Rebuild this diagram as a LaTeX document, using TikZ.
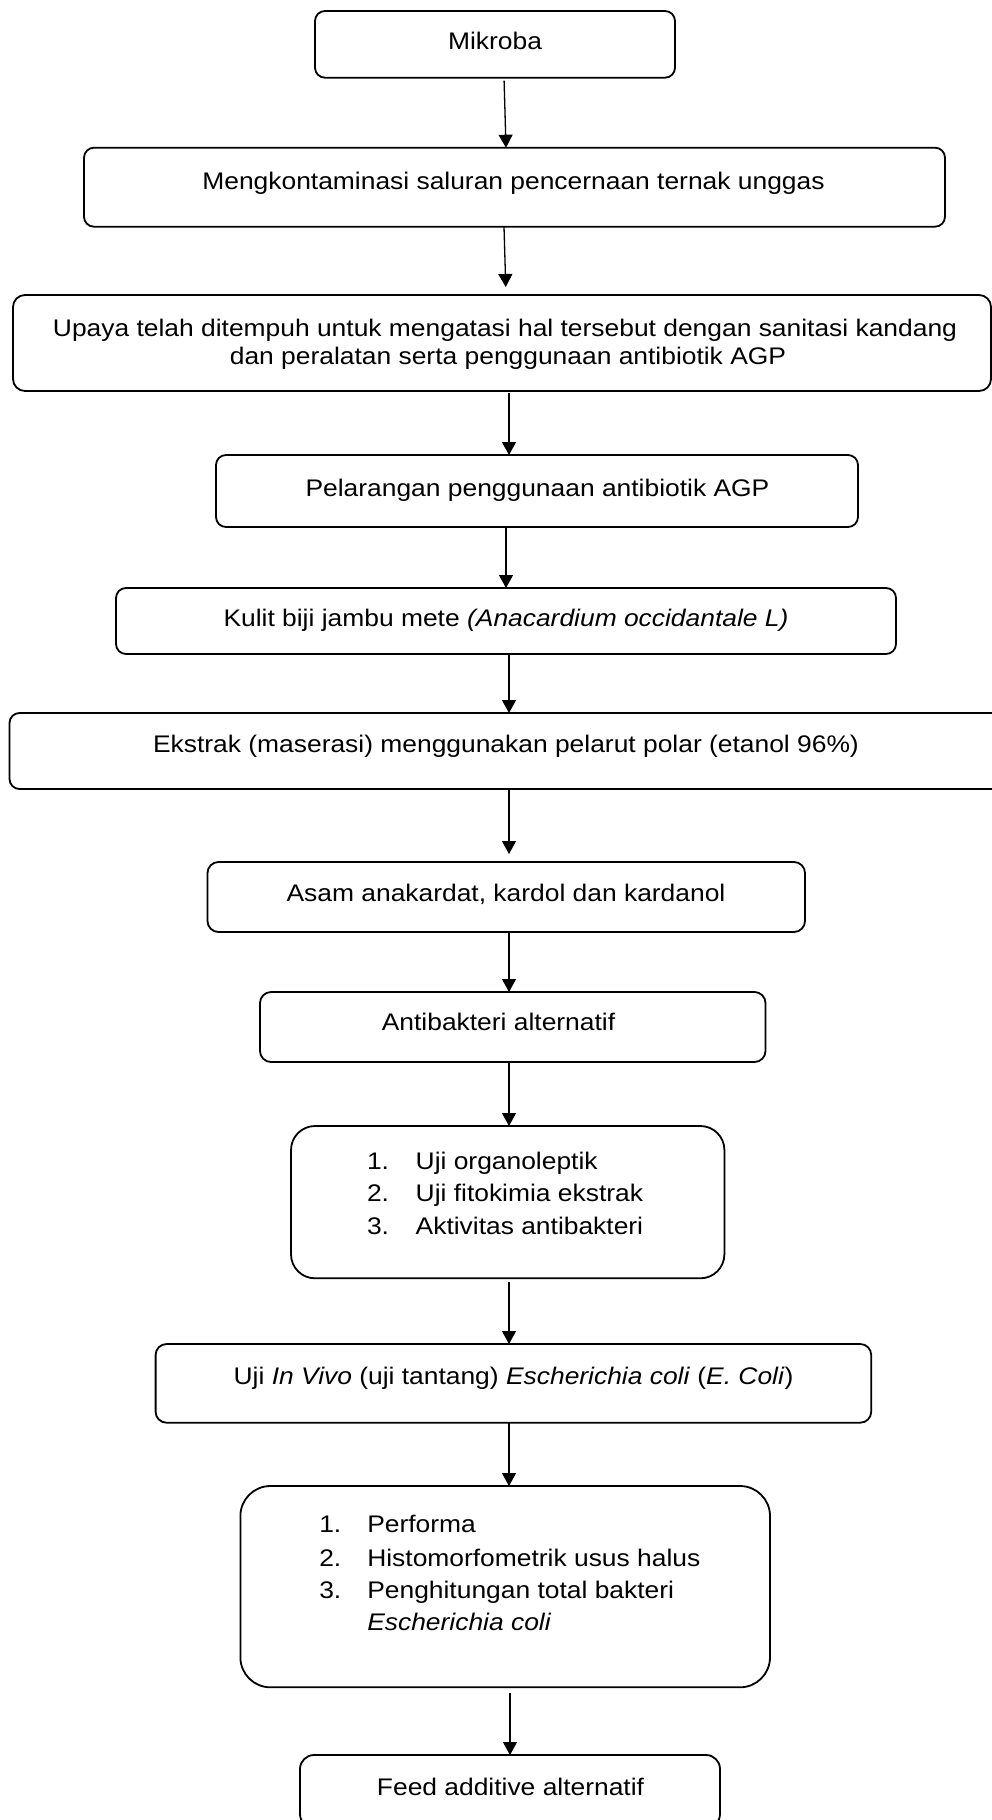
\documentclass[tikz,border=0pt]{standalone}
\usepackage{fontspec}
\setmainfont{Liberation Sans}[FakeStretch=1.1]
\usetikzlibrary{arrows.meta}
\tikzset{
  box/.style={draw=black, line width=1.8pt, inner sep=0pt, outer sep=0pt, fill=white},
  txt/.style={inner sep=0pt, outer sep=0pt, font=\fontsize{24}{27}\selectfont},
  arr/.style={line width=1.3pt, -{Triangle[length=13pt,width=14pt]}}
}
\newcommand{\mybox}[6]{%
  \node[box, rounded corners=#6pt, minimum width={(#3-#2)*1pt}, minimum height={(#5-#4)*1pt}] (#1) at ({(#2+#3)/2},{(#4+#5)/2}) {};}
\begin{document}
\begin{tikzpicture}[x=1pt,y=-1pt]
\useasboundingbox (0,0) rectangle (992,1820);
\fill[white] (0,0) rectangle (992,1820);
% boxes
\mybox{b1}{315}{675}{11}{77.7}{10}
\mybox{b2}{84}{945}{147.7}{226.7}{10}
\mybox{b3}{13}{991}{295}{391}{12}
\mybox{b4}{216}{858}{455}{527}{10}
\mybox{b5}{116}{896}{588}{654}{10}
\mybox{b6}{9.5}{1002}{713}{789}{10}
\mybox{b7}{207.5}{805}{862}{932}{11}
\mybox{b8}{260}{765.5}{992}{1062}{11}
\mybox{b9}{291}{724.4}{1126}{1278.3}{24}
\mybox{b10}{155.6}{871.2}{1344}{1422.7}{11}
\mybox{b11}{240.4}{770}{1486}{1687.3}{30}
\mybox{b12}{300}{720}{1755}{1828}{14}
% texts
\node[txt, anchor=base] (t1) at (495,49.3) {Mikroba};
\node[txt, anchor=base] (t2) at (513.5,189.3) {Mengkontaminasi saluran pencernaan ternak unggas};
\node[txt, anchor=base] (t3a) at (505,336.5) {Upaya telah ditempuh untuk mengatasi hal tersebut dengan sanitasi kandang};
\node[txt, anchor=base] (t3b) at (508,364) {dan peralatan serta penggunaan antibiotik AGP};
\node[txt, anchor=base] (t4) at (537.5,496) {Pelarangan penggunaan antibiotik AGP};
\node[txt, anchor=base] (t5) at (506,626) {Kulit biji jambu mete \textit{(Anacardium occidantale L)}};
\node[txt, anchor=base] (t6) at (506,752.6) {Ekstrak (maserasi) menggunakan pelarut polar (etanol 96\%)};
\node[txt, anchor=base] (t7) at (506,901) {Asam anakardat, kardol dan kardanol};
\node[txt, anchor=base] (t8) at (498.5,1030.3) {Antibakteri alternatif};
\node[txt, anchor=base west] (n9a) at (367,1169.3) {1.};
\node[txt, anchor=base west] (t9a) at (415.7,1169.3) {Uji organoleptik};
\node[txt, anchor=base west] (n9b) at (367,1201.9) {2.};
\node[txt, anchor=base west] (t9b) at (415.7,1201.9) {Uji fitokimia ekstrak};
\node[txt, anchor=base west] (n9c) at (367,1234.3) {3.};
\node[txt, anchor=base west] (t9c) at (415.7,1234.3) {Aktivitas antibakteri};
\node[txt, anchor=base] (t10) at (513.5,1384.3) {Uji \textit{In Vivo} (uji tantang) \textit{Escherichia coli} (\textit{E. Coli})};
\node[txt, anchor=base west] (n11a) at (319.3,1532.7) {1.};
\node[txt, anchor=base west] (t11a) at (367.3,1532.7) {Performa};
\node[txt, anchor=base west] (n11b) at (319.3,1566) {2.};
\node[txt, anchor=base west] (t11b) at (367.3,1566) {Histomorfometrik usus halus};
\node[txt, anchor=base west] (n11c) at (319.3,1598.3) {3.};
\node[txt, anchor=base west] (t11c) at (367.3,1598.3) {Penghitungan total bakteri};
\node[txt, anchor=base west] (t11d) at (367.3,1630.7) {\textit{Escherichia coli}};
\node[txt, anchor=base] (t12) at (510.5,1795) {Feed additive alternatif};
% arrows
\draw[arr, shorten <=3pt] (504,0 |- b1.south) -- (506,0 |- b2.north);
\draw[arr, shorten >=8pt] (504,0 |- b2.south) -- (506,0 |- b3.north);
\draw[arr, shorten <=2pt] (509,0 |- b3.south) -- (509,0 |- b4.north);
\draw[arr] (506,0 |- b4.south) -- (506,0 |- b5.north);
\draw[arr] (509,0 |- b5.south) -- (509,0 |- b6.north);
\draw[arr, shorten >=8pt] (509,0 |- b6.south) -- (509,0 |- b7.north);
\draw[arr] (509,0 |- b7.south) -- (509,0 |- b8.north);
\draw[arr, shorten <=1pt] (509,0 |- b8.south) -- (509,0 |- b9.north);
\draw[arr, shorten <=4pt] (509,0 |- b9.south) -- (509,0 |- b10.north);
\draw[arr] (509,0 |- b10.south) -- (509,0 |- b11.north);
\draw[arr, shorten <=6pt] (510,0 |- b11.south) -- (510,0 |- b12.north);
\end{tikzpicture}
\end{document}
